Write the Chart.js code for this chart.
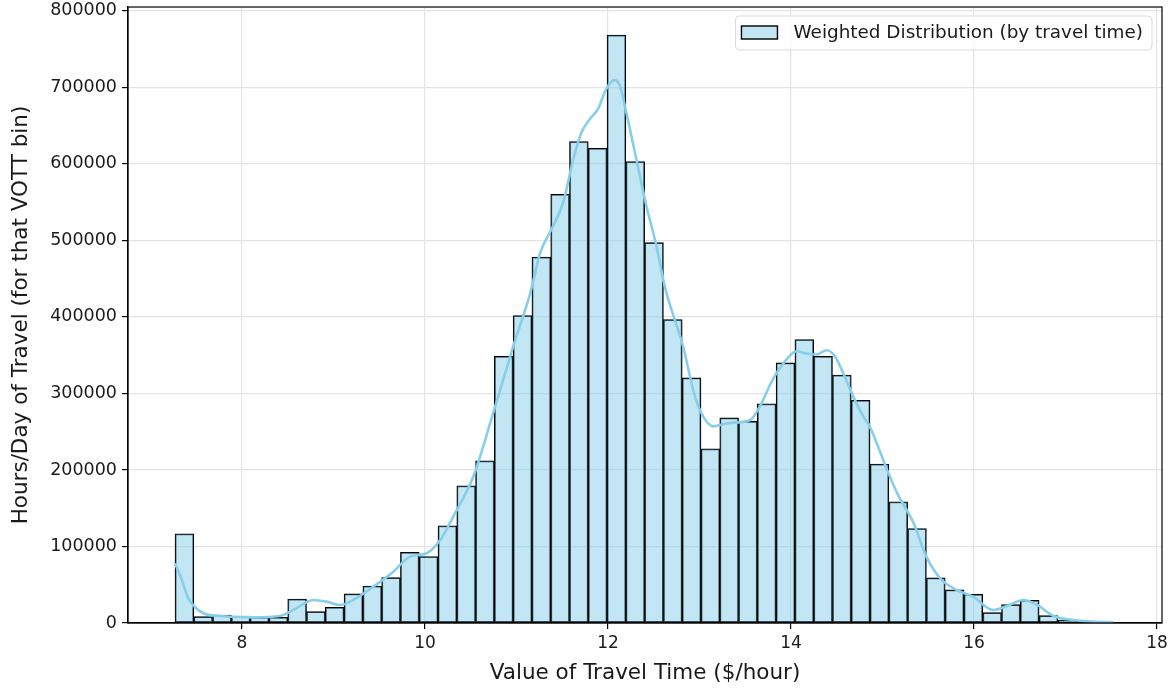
<!DOCTYPE html>
<html>
<head>
<meta charset="utf-8">
<script src="https://cdn.jsdelivr.net/npm/chart.js@4.4.1/dist/chart.umd.min.js"></script>
<style>
  html, body { margin: 0; padding: 0; background: #fff; }
  canvas { display: block; }
</style>
</head>
<body>
<canvas id="votChart" width="1173" height="690"></canvas>
<script>
// histogram bins (50 equal bins) of value of travel time, weighted by hours/day
const binStart = 7.268;
const binWidth = 0.2053;
const binHours = [
  116500, 8300, 10500, 9200, 7400, 7400, 31400, 14800, 20500, 38000,
  48400, 59300, 92500, 86800, 127000, 179300, 212000, 348600, 401800, 478200,
  560200, 629200, 620400, 768300, 603000, 497000, 396600, 320300, 227700, 268000,
  263500, 286400, 339900, 370400, 348500, 324000, 291000, 207700, 158400, 123400,
  58900, 43200, 37500, 13500, 24000, 29700, 9600, 3900, 2200, 900
];

// smoothed density curve, scaled to the histogram
const kdeX = [
  7.268, 7.34, 7.41, 7.475, 7.577, 7.76, 8.124, 8.415, 8.561, 8.779,
  8.926, 9.071, 9.216, 9.435, 9.654, 9.836, 10.019, 10.164, 10.309, 10.528,
  10.746, 10.965, 11.148, 11.26, 11.40, 11.51, 11.62, 11.71, 11.80, 11.89,
  11.98, 12.07, 12.13, 12.20, 12.31, 12.42, 12.53, 12.62, 12.82, 12.95,
  13.05, 13.15, 13.33, 13.55, 13.66, 13.80, 13.95, 14.06, 14.17, 14.28,
  14.39, 14.48, 14.57, 14.68, 14.79, 14.86, 15.05, 15.16, 15.34, 15.48,
  15.63, 15.81, 15.99, 16.21, 16.36, 16.54, 16.69, 16.87, 17.09, 17.30, 17.52
];
const kdeY = [
  78100, 57000, 33000, 22000, 12700, 9200, 7400, 9200, 17000, 30100,
  27900, 23600, 30100, 47500, 67100, 86800, 91200, 108000, 139100, 191500,
  274500, 361700, 430000, 483900, 518700, 549300, 606000, 641000, 658400, 671500,
  697700, 709400, 702000, 667100, 606000, 544900, 492500, 440000, 361700, 296200,
  268000, 257000, 261400, 265000, 283100, 318100, 344200, 355100, 352100, 350800,
  356400, 348600, 326800, 296200, 270000, 257000, 200300, 169800, 130500, 86800,
  58500, 43200, 34400, 17000, 22200, 30100, 23600, 9200, 3900, 1800, 900
];

const xTicks = [8, 10, 12, 14, 16, 18];
const yTicks = [0, 100000, 200000, 300000, 400000, 500000, 600000, 700000, 800000];

const FONT = "'DejaVu Sans', sans-serif";
const barFill = "rgba(135, 206, 235, 0.5)";
const gridColor = "#e4e4e4";

// black frame on all four sides of the plot
const frameBox = {
  id: "frameBox",
  afterDatasetsDraw(chart) {
    const { ctx, chartArea: a } = chart;
    ctx.save();
    ctx.strokeStyle = "#000";
    ctx.lineWidth = 1.2;
    ctx.strokeRect(a.left, a.top, a.right - a.left, a.bottom - a.top);
    ctx.restore();
  },
};

// legend box in the upper right corner
const cornerLegend = {
  id: "cornerLegend",
  afterDraw(chart) {
    const { ctx, chartArea: a } = chart;
    const label = chart.data.datasets[1].label;
    ctx.save();
    ctx.font = "18.4px " + FONT;
    const tw = ctx.measureText(label).width;
    const right = a.right - 10;
    const top = a.top + 9;
    const h = 34;
    const w = 6 + 36 + 16 + tw + 9;
    const left = right - w;

    ctx.beginPath();
    ctx.roundRect(left, top, w, h, 4);
    ctx.fillStyle = "rgba(255,255,255,0.8)";
    ctx.fill();
    ctx.strokeStyle = "#d9d9d9";
    ctx.lineWidth = 1;
    ctx.stroke();

    ctx.fillStyle = barFill;
    ctx.fillRect(left + 6, top + 10, 36, 13);
    ctx.strokeStyle = "#000";
    ctx.lineWidth = 1.4;
    ctx.strokeRect(left + 6, top + 10, 36, 13);

    ctx.fillStyle = "#1a1a1a";
    ctx.textBaseline = "middle";
    ctx.fillText(label, left + 58, top + h / 2);
    ctx.restore();
  },
};

const ctx = document.getElementById("votChart");
new Chart(ctx, {
  type: "bar",
  data: {
    datasets: [
      {
        type: "line",
        label: "KDE",
        data: kdeX.map((x, i) => ({ x: x, y: kdeY[i] })),
        borderColor: "#87ceeb",
        borderWidth: 2.6,
        pointRadius: 0,
        cubicInterpolationMode: "monotone",
        order: 0,
      },
      {
        type: "bar",
        label: "Weighted Distribution (by travel time)",
        data: binHours.map((h, i) => ({ x: binStart + binWidth * (i + 0.5), y: h })),
        backgroundColor: barFill,
        borderColor: "#000",
        borderWidth: 1.1,
        borderSkipped: false,
        barPercentage: 1,
        categoryPercentage: 1,
        order: 1,
      },
    ],
  },
  options: {
    responsive: false,
    animation: false,
    layout: { padding: { top: 7, right: 11, left: 0, bottom: 0 } },
    plugins: {
      legend: { display: false },
      tooltip: { enabled: false },
    },
    scales: {
      x: {
        type: "linear",
        min: 6.754,
        max: 18.055,
        offset: false,
        afterFit: (s) => { s.height = 67; s.paddingLeft = 0; s.paddingRight = 0; },
        afterBuildTicks: (s) => { s.ticks = xTicks.map((v) => ({ value: v })); },
        ticks: { font: { family: FONT, size: 17 }, color: "#1a1a1a", padding: 4, maxRotation: 0 },
        grid: { color: gridColor, lineWidth: 1.2, tickColor: "#000", tickLength: 6, offset: false },
        border: { color: "#000", width: 1.2 },
        title: {
          display: true,
          text: "Value of Travel Time ($/hour)",
          font: { family: FONT, size: 21.5 },
          color: "#1a1a1a",
          padding: { top: 0, bottom: 4 },
        },
      },
      y: {
        min: 0,
        max: 805000,
        afterFit: (s) => { s.width = 128; s.paddingTop = 0; s.paddingBottom = 0; },
        afterBuildTicks: (s) => { s.ticks = yTicks.map((v) => ({ value: v })); },
        ticks: { font: { family: FONT, size: 17.5 }, color: "#1a1a1a", padding: 5, callback: (v) => String(v) },
        grid: { color: gridColor, lineWidth: 1.2, tickColor: "#000", tickLength: 6 },
        border: { color: "#000", width: 1.2 },
        title: {
          display: true,
          text: "Hours/Day of Travel (for that VOTT bin)",
          font: { family: FONT, size: 21.5 },
          color: "#1a1a1a",
          padding: { top: 9, bottom: 0 },
        },
      },
    },
  },
  plugins: [frameBox, cornerLegend],
});
</script>
</body>
</html>
